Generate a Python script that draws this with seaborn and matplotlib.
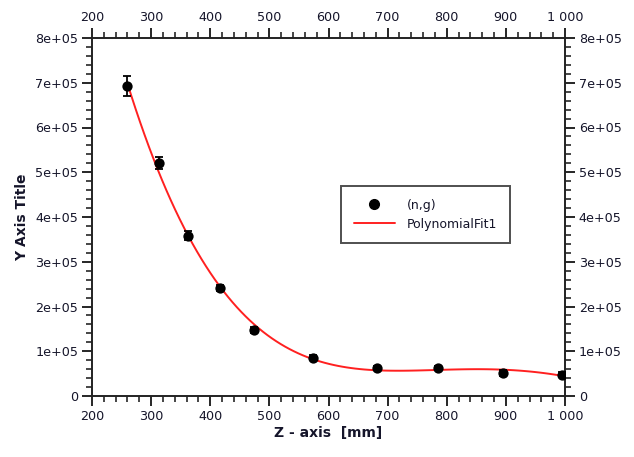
import numpy as np
import pandas as pd
import seaborn as sns
import matplotlib
matplotlib.use("Agg")
import matplotlib.pyplot as plt
from matplotlib.ticker import MultipleLocator
from matplotlib.lines import Line2D

# Measured capture rate versus position along the beam axis
z_mm = [259, 313, 362, 417, 474, 574, 682, 785, 895, 995]
counts = [692000, 520000, 358000, 242000, 147000, 86000, 62000, 62000, 51000, 48000]
errors = [22000, 13000, 10000, 7000, 7000, 6000, 5000, 5000, 7000, 5000]

y_ticks = [0, 100000, 200000, 300000, 400000, 500000, 600000, 700000, 800000]
y_tick_labels = ["0", "1e+05", "2e+05", "3e+05", "4e+05", "5e+05", "6e+05", "7e+05", "8e+05"]
x_ticks = [200, 300, 400, 500, 600, 700, 800, 900, 1000]
x_tick_labels = ["200", "300", "400", "500", "600", "700", "800", "900", "1 000"]

df = pd.DataFrame({"z": z_mm, "n": counts, "err": errors})

sns.set_style("ticks")
plt.rcParams["font.family"] = ["DejaVu Sans"]

fig = plt.figure(figsize=(6.34, 4.57), dpi=100)
ax = fig.add_axes([92 / 634, 1 - 396 / 457, (565 - 92) / 634, (396 - 38) / 457])

# polynomial fit through the measured points
sns.regplot(data=df, x="z", y="n", order=4, ci=None, scatter=False, truncate=True,
            line_kws={"color": "#ff2020", "lw": 1.4, "zorder": 2}, ax=ax)

ax.errorbar(df["z"], df["n"], yerr=df["err"], fmt="none", ecolor="black",
            elinewidth=1.3, capsize=3, capthick=1.3, zorder=3)
sns.scatterplot(data=df, x="z", y="n", color="black", s=55, edgecolor="black",
                linewidth=0, zorder=4, ax=ax)

ax.set_xlim(200, 1000)
ax.set_ylim(0, 800000)
ax.set_xticks(x_ticks)
ax.set_xticklabels(x_tick_labels)
ax.set_yticks(y_ticks)
ax.set_yticklabels(y_tick_labels)
ax.xaxis.set_minor_locator(MultipleLocator(20))
ax.yaxis.set_minor_locator(MultipleLocator(20000))

txt = "#15152a"
ax.tick_params(which="major", direction="out", length=7, width=1.4, labelsize=9.2,
               labelcolor=txt, top=True, right=True, labeltop=True, labelright=True,
               pad=3)
ax.tick_params(which="minor", direction="out", length=4.5, width=1.2,
               top=True, right=True)
for sp in ax.spines.values():
    sp.set_visible(True)
    sp.set_linewidth(1.4)
    sp.set_color("#222222")

ax.set_xlabel("Z - axis  [mm]", fontsize=10, fontweight="bold", color=txt, labelpad=2)
ax.set_ylabel("Y Axis Title", fontsize=10, fontweight="bold", color=txt, labelpad=4)

handles = [
    Line2D([], [], marker="o", color="black", ls="none", markersize=7),
    Line2D([], [], color="#ff2020", lw=1.4),
]
leg = ax.legend(handles, ["(n,g)", "PolynomialFit1"], loc="upper left",
                bbox_to_anchor=((341 - 92) / 473, (396 - 186) / 358),
                fontsize=9, frameon=True, fancybox=False, borderpad=1.0,
                handlelength=3.3, handletextpad=1.0, labelspacing=0.5,
                borderaxespad=0)
leg.get_frame().set_edgecolor("#222222")
leg.get_frame().set_linewidth(1.4)
for t in leg.get_texts():
    t.set_color(txt)

fig.savefig("out.png", dpi=100)
